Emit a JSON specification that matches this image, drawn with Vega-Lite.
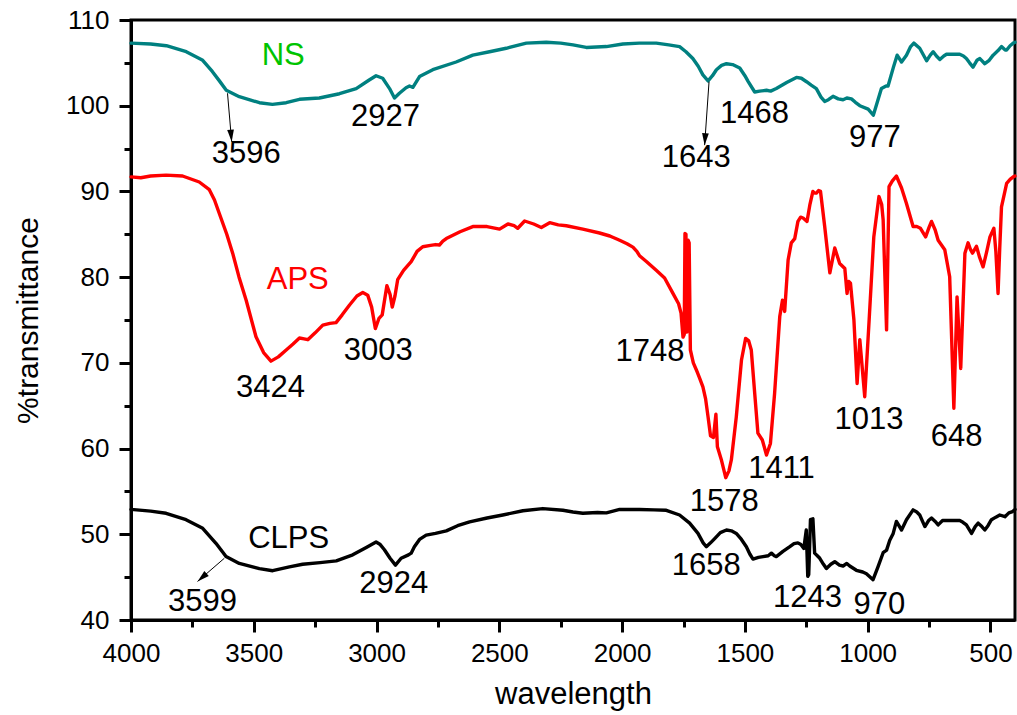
{
  "$schema": "https://vega.github.io/schema/vega-lite/v6.json",
  "width": 884,
  "height": 600,
  "autosize": "none",
  "padding": {"left": 131, "top": 20, "right": 2, "bottom": 95},
  "background": "white",
  "config": {
    "font": "Liberation Sans",
    "view": {"stroke": "black", "strokeWidth": 3},
    "axis": {"grid": false, "domainColor": "black", "tickColor": "black", "labelColor": "black", "titleColor": "black", "titleFontWeight": "normal", "labelFont": "Liberation Sans", "titleFont": "Liberation Sans", "labelFlush": false, "labelOverlap": false}
  },
  "datasets": {
    "spectra": [
      {"s":"NS","w":4000,"t":107.3},{"s":"NS","w":3920,"t":107.2},{"s":"NS","w":3856,"t":107.0},{"s":"NS","w":3775,"t":106.3},{"s":"NS","w":3708,"t":105.3},{"s":"NS","w":3669,"t":104.0},{"s":"NS","w":3640,"t":102.9},{"s":"NS","w":3612,"t":101.8},{"s":"NS","w":3559,"t":101.05},{"s":"NS","w":3477,"t":100.35},{"s":"NS","w":3424,"t":100.16},{"s":"NS","w":3368,"t":100.35},{"s":"NS","w":3314,"t":100.75},{"s":"NS","w":3233,"t":100.9},{"s":"NS","w":3151,"t":101.4},{"s":"NS","w":3083,"t":102.0},{"s":"NS","w":3030,"t":103.0},{"s":"NS","w":3002,"t":103.5},{"s":"NS","w":2975,"t":103.2},{"s":"NS","w":2947,"t":102.0},{"s":"NS","w":2927,"t":100.9},{"s":"NS","w":2907,"t":101.45},{"s":"NS","w":2880,"t":102.1},{"s":"NS","w":2866,"t":102.3},{"s":"NS","w":2852,"t":102.15},{"s":"NS","w":2825,"t":103.4},{"s":"NS","w":2771,"t":104.2},{"s":"NS","w":2676,"t":105.1},{"s":"NS","w":2608,"t":105.9},{"s":"NS","w":2540,"t":106.3},{"s":"NS","w":2472,"t":106.7},{"s":"NS","w":2390,"t":107.3},{"s":"NS","w":2309,"t":107.4},{"s":"NS","w":2250,"t":107.3},{"s":"NS","w":2200,"t":107.1},{"s":"NS","w":2146,"t":106.8},{"s":"NS","w":2064,"t":106.9},{"s":"NS","w":1997,"t":107.2},{"s":"NS","w":1930,"t":107.3},{"s":"NS","w":1861,"t":107.3},{"s":"NS","w":1810,"t":107.1},{"s":"NS","w":1766,"t":106.9},{"s":"NS","w":1740,"t":106.3},{"s":"NS","w":1712,"t":105.5},{"s":"NS","w":1690,"t":104.6},{"s":"NS","w":1671,"t":103.6},{"s":"NS","w":1650,"t":102.9},{"s":"NS","w":1632,"t":103.5},{"s":"NS","w":1616,"t":104.2},{"s":"NS","w":1595,"t":104.7},{"s":"NS","w":1575,"t":104.9},{"s":"NS","w":1550,"t":104.8},{"s":"NS","w":1521,"t":104.4},{"s":"NS","w":1500,"t":103.5},{"s":"NS","w":1487,"t":102.85},{"s":"NS","w":1460,"t":101.6},{"s":"NS","w":1440,"t":101.7},{"s":"NS","w":1412,"t":101.8},{"s":"NS","w":1395,"t":101.7},{"s":"NS","w":1372,"t":102.0},{"s":"NS","w":1330,"t":102.7},{"s":"NS","w":1290,"t":103.3},{"s":"NS","w":1270,"t":103.2},{"s":"NS","w":1249,"t":102.8},{"s":"NS","w":1230,"t":102.4},{"s":"NS","w":1209,"t":102.0},{"s":"NS","w":1190,"t":101.0},{"s":"NS","w":1175,"t":100.5},{"s":"NS","w":1160,"t":100.7},{"s":"NS","w":1141,"t":101.1},{"s":"NS","w":1120,"t":100.8},{"s":"NS","w":1100,"t":100.7},{"s":"NS","w":1085,"t":100.9},{"s":"NS","w":1066,"t":100.8},{"s":"NS","w":1050,"t":100.4},{"s":"NS","w":1032,"t":100.0},{"s":"NS","w":998,"t":99.6},{"s":"NS","w":977,"t":98.9},{"s":"NS","w":960,"t":100.5},{"s":"NS","w":944,"t":102.0},{"s":"NS","w":925,"t":102.3},{"s":"NS","w":917,"t":102.3},{"s":"NS","w":895,"t":104.5},{"s":"NS","w":880,"t":105.9},{"s":"NS","w":862,"t":105.1},{"s":"NS","w":842,"t":105.9},{"s":"NS","w":825,"t":106.9},{"s":"NS","w":812,"t":107.3},{"s":"NS","w":788,"t":106.7},{"s":"NS","w":760,"t":105.25},{"s":"NS","w":745,"t":105.9},{"s":"NS","w":733,"t":106.3},{"s":"NS","w":720,"t":105.8},{"s":"NS","w":706,"t":105.4},{"s":"NS","w":690,"t":105.8},{"s":"NS","w":679,"t":106.0},{"s":"NS","w":650,"t":106.0},{"s":"NS","w":625,"t":106.0},{"s":"NS","w":610,"t":105.8},{"s":"NS","w":598,"t":105.5},{"s":"NS","w":585,"t":105.0},{"s":"NS","w":571,"t":104.5},{"s":"NS","w":555,"t":105.3},{"s":"NS","w":543,"t":105.5},{"s":"NS","w":523,"t":104.9},{"s":"NS","w":505,"t":105.3},{"s":"NS","w":489,"t":105.9},{"s":"NS","w":470,"t":106.4},{"s":"NS","w":455,"t":106.9},{"s":"NS","w":440,"t":106.5},{"s":"NS","w":434,"t":106.5},{"s":"NS","w":420,"t":107.0},{"s":"NS","w":407,"t":107.3},{"s":"NS","w":400,"t":107.4},
      {"s":"APS","w":4000,"t":91.7},{"s":"APS","w":3960,"t":91.6},{"s":"APS","w":3920,"t":91.8},{"s":"APS","w":3857,"t":91.9},{"s":"APS","w":3790,"t":91.8},{"s":"APS","w":3722,"t":91.1},{"s":"APS","w":3681,"t":90.2},{"s":"APS","w":3660,"t":89.0},{"s":"APS","w":3640,"t":87.4},{"s":"APS","w":3610,"t":85.0},{"s":"APS","w":3586,"t":82.8},{"s":"APS","w":3560,"t":80.0},{"s":"APS","w":3531,"t":77.3},{"s":"APS","w":3491,"t":73.05},{"s":"APS","w":3460,"t":71.2},{"s":"APS","w":3430,"t":70.2},{"s":"APS","w":3400,"t":70.7},{"s":"APS","w":3368,"t":71.5},{"s":"APS","w":3340,"t":72.2},{"s":"APS","w":3314,"t":72.9},{"s":"APS","w":3295,"t":72.8},{"s":"APS","w":3280,"t":72.7},{"s":"APS","w":3250,"t":73.5},{"s":"APS","w":3219,"t":74.4},{"s":"APS","w":3190,"t":74.6},{"s":"APS","w":3165,"t":74.7},{"s":"APS","w":3140,"t":75.6},{"s":"APS","w":3110,"t":76.75},{"s":"APS","w":3080,"t":77.8},{"s":"APS","w":3056,"t":78.2},{"s":"APS","w":3036,"t":77.9},{"s":"APS","w":3020,"t":76.5},{"s":"APS","w":3005,"t":74.0},{"s":"APS","w":2990,"t":75.2},{"s":"APS","w":2977,"t":75.6},{"s":"APS","w":2958,"t":79.0},{"s":"APS","w":2945,"t":78.0},{"s":"APS","w":2936,"t":76.5},{"s":"APS","w":2925,"t":77.8},{"s":"APS","w":2914,"t":79.7},{"s":"APS","w":2890,"t":80.8},{"s":"APS","w":2859,"t":81.8},{"s":"APS","w":2835,"t":83.0},{"s":"APS","w":2812,"t":83.55},{"s":"APS","w":2780,"t":83.7},{"s":"APS","w":2760,"t":83.8},{"s":"APS","w":2744,"t":83.75},{"s":"APS","w":2730,"t":84.2},{"s":"APS","w":2716,"t":84.5},{"s":"APS","w":2660,"t":85.3},{"s":"APS","w":2608,"t":85.9},{"s":"APS","w":2550,"t":85.9},{"s":"APS","w":2499,"t":85.6},{"s":"APS","w":2465,"t":86.2},{"s":"APS","w":2440,"t":86.0},{"s":"APS","w":2425,"t":85.7},{"s":"APS","w":2397,"t":86.55},{"s":"APS","w":2360,"t":86.2},{"s":"APS","w":2329,"t":85.8},{"s":"APS","w":2295,"t":86.35},{"s":"APS","w":2260,"t":86.1},{"s":"APS","w":2227,"t":86.0},{"s":"APS","w":2160,"t":85.6},{"s":"APS","w":2092,"t":85.15},{"s":"APS","w":2050,"t":84.8},{"s":"APS","w":2010,"t":84.3},{"s":"APS","w":1980,"t":83.9},{"s":"APS","w":1956,"t":83.5},{"s":"APS","w":1940,"t":83.0},{"s":"APS","w":1929,"t":82.5},{"s":"APS","w":1900,"t":81.8},{"s":"APS","w":1861,"t":80.8},{"s":"APS","w":1827,"t":79.9},{"s":"APS","w":1793,"t":78.1},{"s":"APS","w":1770,"t":76.9},{"s":"APS","w":1760,"t":75.8},{"s":"APS","w":1752,"t":73.0},{"s":"APS","w":1747,"t":73.3},{"s":"APS","w":1744,"t":85.1},{"s":"APS","w":1740,"t":85.0},{"s":"APS","w":1736,"t":73.6},{"s":"APS","w":1731,"t":84.3},{"s":"APS","w":1727,"t":84.0},{"s":"APS","w":1722,"t":71.5},{"s":"APS","w":1710,"t":70.0},{"s":"APS","w":1698,"t":69.2},{"s":"APS","w":1684,"t":68.2},{"s":"APS","w":1671,"t":67.2},{"s":"APS","w":1660,"t":65.8},{"s":"APS","w":1650,"t":63.7},{"s":"APS","w":1640,"t":61.5},{"s":"APS","w":1628,"t":61.3},{"s":"APS","w":1618,"t":64.0},{"s":"APS","w":1612,"t":60.2},{"s":"APS","w":1595,"t":58.6},{"s":"APS","w":1578,"t":56.6},{"s":"APS","w":1565,"t":57.4},{"s":"APS","w":1555,"t":58.7},{"s":"APS","w":1535,"t":63.7},{"s":"APS","w":1514,"t":70.3},{"s":"APS","w":1497,"t":72.85},{"s":"APS","w":1485,"t":72.6},{"s":"APS","w":1474,"t":71.5},{"s":"APS","w":1460,"t":66.45},{"s":"APS","w":1447,"t":61.8},{"s":"APS","w":1429,"t":61.0},{"s":"APS","w":1412,"t":59.25},{"s":"APS","w":1396,"t":60.6},{"s":"APS","w":1379,"t":66.45},{"s":"APS","w":1358,"t":75.4},{"s":"APS","w":1347,"t":77.3},{"s":"APS","w":1338,"t":76.0},{"s":"APS","w":1324,"t":82.0},{"s":"APS","w":1311,"t":84.0},{"s":"APS","w":1297,"t":84.5},{"s":"APS","w":1284,"t":86.5},{"s":"APS","w":1273,"t":87.0},{"s":"APS","w":1263,"t":86.9},{"s":"APS","w":1247,"t":86.5},{"s":"APS","w":1235,"t":88.5},{"s":"APS","w":1223,"t":90.0},{"s":"APS","w":1216,"t":89.8},{"s":"APS","w":1209,"t":89.8},{"s":"APS","w":1200,"t":90.1},{"s":"APS","w":1192,"t":90.0},{"s":"APS","w":1175,"t":85.9},{"s":"APS","w":1154,"t":80.5},{"s":"APS","w":1134,"t":83.4},{"s":"APS","w":1124,"t":82.5},{"s":"APS","w":1114,"t":81.6},{"s":"APS","w":1093,"t":81.0},{"s":"APS","w":1084,"t":78.1},{"s":"APS","w":1077,"t":79.5},{"s":"APS","w":1070,"t":79.3},{"s":"APS","w":1056,"t":75.0},{"s":"APS","w":1043,"t":67.6},{"s":"APS","w":1032,"t":72.7},{"s":"APS","w":1012,"t":66.05},{"s":"APS","w":994,"t":75.0},{"s":"APS","w":975,"t":84.7},{"s":"APS","w":954,"t":89.4},{"s":"APS","w":943,"t":88.5},{"s":"APS","w":937,"t":86.7},{"s":"APS","w":923,"t":73.85},{"s":"APS","w":913,"t":90.55},{"s":"APS","w":900,"t":91.2},{"s":"APS","w":883,"t":91.8},{"s":"APS","w":862,"t":90.4},{"s":"APS","w":842,"t":88.6},{"s":"APS","w":815,"t":85.9},{"s":"APS","w":800,"t":85.9},{"s":"APS","w":785,"t":85.7},{"s":"APS","w":764,"t":84.7},{"s":"APS","w":750,"t":85.8},{"s":"APS","w":740,"t":86.5},{"s":"APS","w":725,"t":85.5},{"s":"APS","w":713,"t":84.3},{"s":"APS","w":686,"t":83.2},{"s":"APS","w":666,"t":80.05},{"s":"APS","w":649,"t":64.7},{"s":"APS","w":636,"t":77.7},{"s":"APS","w":621,"t":69.35},{"s":"APS","w":604,"t":82.8},{"s":"APS","w":591,"t":84.0},{"s":"APS","w":581,"t":83.2},{"s":"APS","w":573,"t":82.8},{"s":"APS","w":557,"t":83.6},{"s":"APS","w":544,"t":82.3},{"s":"APS","w":530,"t":81.2},{"s":"APS","w":515,"t":83.0},{"s":"APS","w":502,"t":84.7},{"s":"APS","w":486,"t":85.7},{"s":"APS","w":478,"t":83.0},{"s":"APS","w":469,"t":78.1},{"s":"APS","w":462,"t":83.5},{"s":"APS","w":455,"t":88.2},{"s":"APS","w":434,"t":90.95},{"s":"APS","w":420,"t":91.4},{"s":"APS","w":407,"t":91.7},{"s":"APS","w":400,"t":91.8},
      {"s":"CLPS","w":4000,"t":52.9},{"s":"CLPS","w":3920,"t":52.7},{"s":"CLPS","w":3857,"t":52.45},{"s":"CLPS","w":3776,"t":51.7},{"s":"CLPS","w":3708,"t":50.7},{"s":"CLPS","w":3654,"t":48.95},{"s":"CLPS","w":3613,"t":47.4},{"s":"CLPS","w":3559,"t":46.6},{"s":"CLPS","w":3477,"t":46.0},{"s":"CLPS","w":3423,"t":45.75},{"s":"CLPS","w":3355,"t":46.2},{"s":"CLPS","w":3301,"t":46.5},{"s":"CLPS","w":3230,"t":46.7},{"s":"CLPS","w":3164,"t":46.9},{"s":"CLPS","w":3097,"t":47.6},{"s":"CLPS","w":3040,"t":48.5},{"s":"CLPS","w":3002,"t":49.1},{"s":"CLPS","w":2985,"t":48.8},{"s":"CLPS","w":2968,"t":48.2},{"s":"CLPS","w":2945,"t":47.2},{"s":"CLPS","w":2923,"t":46.4},{"s":"CLPS","w":2900,"t":47.2},{"s":"CLPS","w":2870,"t":47.6},{"s":"CLPS","w":2859,"t":47.8},{"s":"CLPS","w":2846,"t":48.55},{"s":"CLPS","w":2825,"t":49.4},{"s":"CLPS","w":2798,"t":49.9},{"s":"CLPS","w":2760,"t":50.1},{"s":"CLPS","w":2716,"t":50.4},{"s":"CLPS","w":2670,"t":51.0},{"s":"CLPS","w":2621,"t":51.45},{"s":"CLPS","w":2550,"t":51.9},{"s":"CLPS","w":2486,"t":52.25},{"s":"CLPS","w":2404,"t":52.75},{"s":"CLPS","w":2323,"t":53.0},{"s":"CLPS","w":2241,"t":52.8},{"s":"CLPS","w":2200,"t":52.6},{"s":"CLPS","w":2160,"t":52.45},{"s":"CLPS","w":2100,"t":52.55},{"s":"CLPS","w":2064,"t":52.5},{"s":"CLPS","w":2010,"t":52.9},{"s":"CLPS","w":1983,"t":52.9},{"s":"CLPS","w":1929,"t":52.9},{"s":"CLPS","w":1870,"t":52.85},{"s":"CLPS","w":1820,"t":52.8},{"s":"CLPS","w":1766,"t":52.25},{"s":"CLPS","w":1725,"t":51.3},{"s":"CLPS","w":1691,"t":50.1},{"s":"CLPS","w":1670,"t":49.0},{"s":"CLPS","w":1657,"t":48.55},{"s":"CLPS","w":1640,"t":49.0},{"s":"CLPS","w":1623,"t":49.5},{"s":"CLPS","w":1600,"t":50.2},{"s":"CLPS","w":1575,"t":50.5},{"s":"CLPS","w":1555,"t":50.4},{"s":"CLPS","w":1535,"t":50.1},{"s":"CLPS","w":1514,"t":49.4},{"s":"CLPS","w":1494,"t":48.55},{"s":"CLPS","w":1480,"t":47.7},{"s":"CLPS","w":1467,"t":47.1},{"s":"CLPS","w":1445,"t":47.3},{"s":"CLPS","w":1426,"t":47.4},{"s":"CLPS","w":1405,"t":47.5},{"s":"CLPS","w":1392,"t":47.8},{"s":"CLPS","w":1380,"t":47.5},{"s":"CLPS","w":1372,"t":47.4},{"s":"CLPS","w":1345,"t":48.0},{"s":"CLPS","w":1317,"t":48.55},{"s":"CLPS","w":1300,"t":48.9},{"s":"CLPS","w":1284,"t":49.0},{"s":"CLPS","w":1272,"t":48.8},{"s":"CLPS","w":1260,"t":48.35},{"s":"CLPS","w":1250,"t":50.5},{"s":"CLPS","w":1244,"t":45.1},{"s":"CLPS","w":1240,"t":45.3},{"s":"CLPS","w":1233,"t":51.7},{"s":"CLPS","w":1223,"t":51.8},{"s":"CLPS","w":1216,"t":47.8},{"s":"CLPS","w":1205,"t":47.5},{"s":"CLPS","w":1195,"t":47.2},{"s":"CLPS","w":1180,"t":46.5},{"s":"CLPS","w":1168,"t":46.0},{"s":"CLPS","w":1150,"t":46.5},{"s":"CLPS","w":1134,"t":46.8},{"s":"CLPS","w":1115,"t":46.4},{"s":"CLPS","w":1100,"t":46.3},{"s":"CLPS","w":1085,"t":46.6},{"s":"CLPS","w":1073,"t":46.3},{"s":"CLPS","w":1046,"t":45.8},{"s":"CLPS","w":1020,"t":45.6},{"s":"CLPS","w":1005,"t":45.4},{"s":"CLPS","w":978,"t":44.7},{"s":"CLPS","w":958,"t":46.2},{"s":"CLPS","w":937,"t":47.85},{"s":"CLPS","w":923,"t":48.15},{"s":"CLPS","w":910,"t":49.3},{"s":"CLPS","w":896,"t":50.1},{"s":"CLPS","w":883,"t":51.5},{"s":"CLPS","w":862,"t":50.5},{"s":"CLPS","w":842,"t":51.7},{"s":"CLPS","w":815,"t":52.85},{"s":"CLPS","w":800,"t":52.6},{"s":"CLPS","w":788,"t":52.25},{"s":"CLPS","w":767,"t":50.9},{"s":"CLPS","w":752,"t":51.6},{"s":"CLPS","w":740,"t":51.9},{"s":"CLPS","w":725,"t":51.5},{"s":"CLPS","w":713,"t":51.1},{"s":"CLPS","w":695,"t":51.6},{"s":"CLPS","w":679,"t":51.6},{"s":"CLPS","w":650,"t":51.6},{"s":"CLPS","w":625,"t":51.6},{"s":"CLPS","w":612,"t":51.4},{"s":"CLPS","w":598,"t":51.1},{"s":"CLPS","w":577,"t":50.1},{"s":"CLPS","w":562,"t":50.9},{"s":"CLPS","w":550,"t":51.3},{"s":"CLPS","w":535,"t":50.9},{"s":"CLPS","w":523,"t":50.5},{"s":"CLPS","w":510,"t":51.0},{"s":"CLPS","w":496,"t":51.7},{"s":"CLPS","w":478,"t":52.0},{"s":"CLPS","w":462,"t":52.25},{"s":"CLPS","w":441,"t":52.05},{"s":"CLPS","w":425,"t":52.5},{"s":"CLPS","w":410,"t":52.65},{"s":"CLPS","w":400,"t":52.9}
    ],
    "labels": [
      {"txt":"NS","kind":"NS","w":3380,"t":104.75},
      {"txt":"APS","kind":"APS","w":3321,"t":78.58},
      {"txt":"CLPS","kind":"CLPS","w":3358,"t":48.43},
      {"txt":"3596","kind":"peak","w":3531,"t":93.32},
      {"txt":"2927","kind":"peak","w":2964,"t":97.63},
      {"txt":"1643","kind":"peak","w":1698,"t":92.88},
      {"txt":"1468","kind":"peak","w":1461,"t":97.95},
      {"txt":"977","kind":"peak","w":971,"t":95.22},
      {"txt":"3424","kind":"peak","w":3432,"t":65.98},
      {"txt":"3003","kind":"peak","w":2993,"t":70.33},
      {"txt":"1748","kind":"peak","w":1886,"t":70.25},
      {"txt":"1578","kind":"peak","w":1584,"t":52.75},
      {"txt":"1411","kind":"peak","w":1351,"t":56.53},
      {"txt":"1013","kind":"peak","w":995,"t":62.25},
      {"txt":"648","kind":"peak","w":638,"t":60.3},
      {"txt":"3599","kind":"peak","w":3709,"t":41.05},
      {"txt":"2924","kind":"peak","w":2930,"t":43.11},
      {"txt":"1658","kind":"peak","w":1657,"t":45.25},
      {"txt":"1243","kind":"peak","w":1245,"t":41.55},
      {"txt":"970","kind":"peak","w":952,"t":40.7}
    ],
    "arrows": [
      {"id":"a3596","w":3607,"t":101.45,"tw":3590,"tt":95.8},
      {"id":"a1643","w":1646,"t":102.8,"tw":1664,"tt":95.4},
      {"id":"a3599","w":3620,"t":47.2,"tw":3729,"tt":44.5}
    ]
  },
  "resolve": {"axis": {"x": "independent", "y": "independent"}, "scale": {"color": "independent"}},
  "layer": [
    {
      "data": {"name": "spectra"},
      "mark": {"type": "line", "strokeWidth": 3.4, "strokeJoin": "round", "strokeCap": "round"},
      "encoding": {
        "x": {"field": "w", "type": "quantitative", "scale": {"domain": [400, 4000], "reverse": true, "nice": false, "zero": false},
          "axis": {"orient": "bottom", "values": [4000, 3500, 3000, 2500, 2000, 1500, 1000, 500], "format": "d", "tickSize": 12, "tickWidth": 3, "domainWidth": 3, "labelFontSize": 26, "labelPadding": 8, "title": "wavelength", "titleFontSize": 31, "titlePadding": 13}},
        "y": {"field": "t", "type": "quantitative", "scale": {"domain": [40, 110], "nice": false, "zero": false},
          "axis": {"orient": "left", "values": [40, 50, 60, 70, 80, 90, 100, 110], "format": "d", "tickSize": 12, "tickWidth": 3, "domainWidth": 3, "labelFontSize": 26, "labelPadding": 10, "title": "%transmittance", "titleFontSize": 30, "titlePadding": 22}},
        "color": {"field": "s", "type": "nominal", "scale": {"domain": ["NS", "APS", "CLPS"], "range": ["#008080", "#ff0000", "#000000"]}, "legend": null}
      }
    },
    {
      "data": {"name": "labels"},
      "mark": {"type": "text", "fontSize": 31, "align": "center", "baseline": "alphabetic", "font": "Liberation Sans"},
      "encoding": {
        "x": {"field": "w", "type": "quantitative",
          "axis": {"orient": "bottom", "values": [3750, 3250, 2750, 2250, 1750, 1250, 750], "tickSize": 7, "tickWidth": 3, "labels": false, "domain": false, "title": null}},
        "y": {"field": "t", "type": "quantitative",
          "axis": {"orient": "left", "values": [45, 55, 65, 75, 85, 95, 105], "tickSize": 7, "tickWidth": 3, "labels": false, "domain": false, "title": null}},
        "text": {"field": "txt"},
        "color": {"field": "kind", "type": "nominal", "scale": {"domain": ["NS", "APS", "CLPS", "peak"], "range": ["#00c400", "#ff0000", "#000000", "#000000"]}, "legend": null}
      }
    },
    {
      "data": {"name": "arrows"},
      "mark": {"type": "rule", "color": "black", "strokeWidth": 1},
      "encoding": {
        "x": {"field": "w", "type": "quantitative", "axis": null},
        "y": {"field": "t", "type": "quantitative", "axis": null},
        "x2": {"field": "tw"},
        "y2": {"field": "tt"}
      }
    },
    {
      "data": {"name": "arrows"},
      "transform": [{"filter": "datum.id === 'a3596'"}],
      "mark": {"type": "point", "shape": "M0,0L-0.28,-1L0.28,-1Z", "filled": true, "color": "black", "opacity": 1, "size": 576, "angle": -5.4},
      "encoding": {
        "x": {"field": "tw", "type": "quantitative", "axis": null},
        "y": {"field": "tt", "type": "quantitative", "axis": null}
      }
    },
    {
      "data": {"name": "arrows"},
      "transform": [{"filter": "datum.id === 'a1643'"}],
      "mark": {"type": "point", "shape": "M0,0L-0.28,-1L0.28,-1Z", "filled": true, "color": "black", "opacity": 1, "size": 576, "angle": 3.9},
      "encoding": {
        "x": {"field": "tw", "type": "quantitative", "axis": null},
        "y": {"field": "tt", "type": "quantitative", "axis": null}
      }
    },
    {
      "data": {"name": "arrows"},
      "transform": [{"filter": "datum.id === 'a3599'"}],
      "mark": {"type": "point", "shape": "M0,0L-0.28,-1L0.28,-1Z", "filled": true, "color": "black", "opacity": 1, "size": 576, "angle": 48.8},
      "encoding": {
        "x": {"field": "tw", "type": "quantitative", "axis": null},
        "y": {"field": "tt", "type": "quantitative", "axis": null}
      }
    }
  ]
}
